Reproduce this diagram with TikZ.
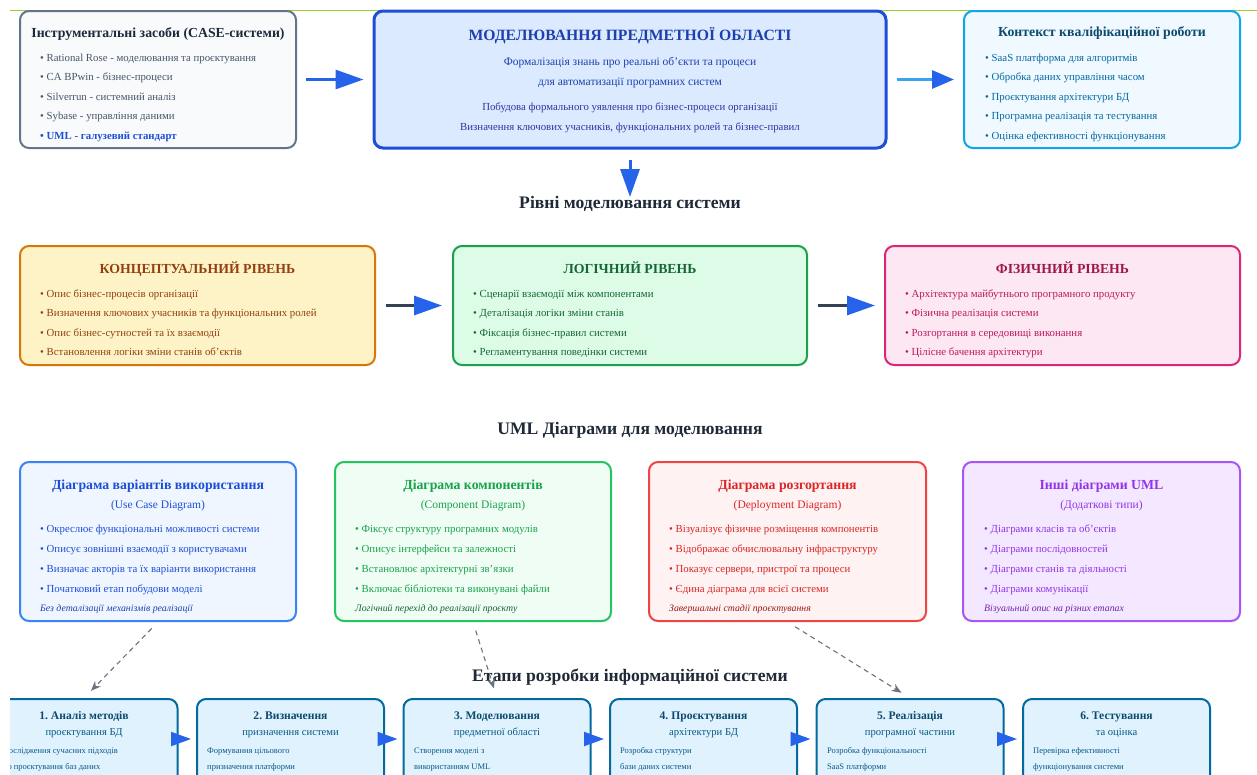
\documentclass[tikz,border=0pt]{standalone}
\usepackage{fontspec}
\setmainfont{Liberation Serif}
\usetikzlibrary{arrows.meta}

\definecolor{lineGreen}{HTML}{9ACD32}
\definecolor{secC}{HTML}{1F2937}
\definecolor{arrowBlue}{HTML}{2563EB}
\definecolor{skyLine}{HTML}{38A3EE}
\definecolor{slateLine}{HTML}{334155}
\definecolor{dashGray}{HTML}{6B7280}
% tools
\definecolor{toolsB}{HTML}{64748B}\definecolor{toolsF}{HTML}{F8FAFC}
\definecolor{toolsT}{HTML}{1E293B}\definecolor{toolsX}{HTML}{475569}
\definecolor{toolsU}{HTML}{1D4ED8}
% domain modelling
\definecolor{modB}{HTML}{1D4ED8}\definecolor{modF}{HTML}{DBEAFE}
\definecolor{modT}{HTML}{1E40AF}\definecolor{modX}{HTML}{3730A3}
% thesis context
\definecolor{ctxB}{HTML}{0EA5E9}\definecolor{ctxF}{HTML}{F0F9FF}
\definecolor{ctxT}{HTML}{0C4A6E}\definecolor{ctxX}{HTML}{0369A1}
% levels
\definecolor{conB}{HTML}{D97706}\definecolor{conF}{HTML}{FEF3C7}\definecolor{conT}{HTML}{92400E}
\definecolor{logB}{HTML}{16A34A}\definecolor{logF}{HTML}{DCFCE7}\definecolor{logT}{HTML}{166534}
\definecolor{phyB}{HTML}{DB2777}\definecolor{phyF}{HTML}{FCE7F3}\definecolor{phyT}{HTML}{9D174D}\definecolor{phyX}{HTML}{BE185D}
% UML diagrams
\definecolor{u1B}{HTML}{3B82F6}\definecolor{u1F}{HTML}{EFF6FF}\definecolor{u1T}{HTML}{1D4ED8}\definecolor{u1I}{HTML}{1E40AF}
\definecolor{u2B}{HTML}{22C55E}\definecolor{u2F}{HTML}{F0FDF4}\definecolor{u2T}{HTML}{16A34A}\definecolor{u2I}{HTML}{166534}
\definecolor{u3B}{HTML}{EF4444}\definecolor{u3F}{HTML}{FEF2F2}\definecolor{u3T}{HTML}{DC2626}\definecolor{u3I}{HTML}{991B1B}
\definecolor{u4B}{HTML}{A855F7}\definecolor{u4F}{HTML}{F3E8FF}\definecolor{u4T}{HTML}{9333EA}\definecolor{u4I}{HTML}{6B21A8}
% stages
\definecolor{stB}{HTML}{0369A1}\definecolor{stF}{HTML}{E0F2FE}\definecolor{stT}{HTML}{0C4A6E}\definecolor{stX}{HTML}{075985}

\tikzset{
  box/.style={draw, rounded corners=9pt, line width=2pt, inner sep=0pt},
  ttl/.style={inner sep=0pt, anchor=base, yshift=-5.2pt, font=\bfseries\fontsize{13.8}{16}\selectfont},
  itm/.style={inner sep=0pt, anchor=base west, yshift=-4.5pt, font=\fontsize{10.8}{12}\selectfont},
  sub/.style={inner sep=0pt, anchor=base, yshift=-4.6pt, font=\fontsize{11.5}{13}\selectfont},
  small/.style={inner sep=0pt, anchor=base, yshift=-4.3pt, font=\fontsize{10.8}{12}\selectfont},
  note/.style={inner sep=0pt, anchor=base west, yshift=-3.5pt, font=\itshape\fontsize{9.8}{11}\selectfont},
  sec/.style={inner sep=0pt, anchor=base, yshift=-6pt, text=secC, font=\bfseries\fontsize{17.6}{20}\selectfont},
  stagebox/.style={box, fill=stF, draw=stB, minimum width=187pt, minimum height=92pt},
  stttl/.style={inner sep=0pt, anchor=base, yshift=-4.8pt, text=stT, font=\bfseries\fontsize{11.6}{14}\selectfont},
  stsub/.style={inner sep=0pt, anchor=base, yshift=-4.4pt, text=stX, font=\fontsize{10.6}{13}\selectfont},
  stsmall/.style={inner sep=0pt, anchor=base west, yshift=-3pt, text=stX, font=\fontsize{8.5}{10}\selectfont},
  bigarrow/.style={line width=3pt, -{Triangle[length=28pt,width=19pt]}},
  steparrow/.style={line width=2pt, arrowBlue, -{Triangle[length=20pt,width=14pt]},
                    shorten <=4pt, shorten >=5pt},
  dasharrow/.style={dashGray, line width=1.1pt, dash pattern=on 5pt off 4pt,
                    -{Stealth[length=10pt,width=8pt]}},
}

\begin{document}
\frenchspacing
\begin{tikzpicture}[x=1pt,y=-1pt]
\useasboundingbox[fill=white] (0,0) rectangle (1257,774);

% thin rule along the top
\draw[lineGreen, line width=0.8pt] (10,10) -- (1257,10);

% ---------- top row ----------
\node[box, draw=toolsB, fill=toolsF, minimum width=276pt, minimum height=137pt] (tools) at (158,79.5) {};
\node[ttl, text=toolsT] (toolsTitle) at (158,32) {Інструментальні засоби (CASE-системи)};
\node[itm, text=toolsX] (tools1) at (40,57) {• Rational Rose - моделювання та проєктування};
\node[itm, text=toolsX] (tools2) at (40,76) {• CA BPwin - бізнес-процеси};
\node[itm, text=toolsX] (tools3) at (40,96) {• Silverrun - системний аналіз};
\node[itm, text=toolsX] (tools4) at (40,115) {• Sybase - управління даними};
\node[itm, text=toolsU, font=\bfseries\fontsize{10.8}{12}\selectfont] (tools5) at (40,135) {• UML - галузевий стандарт};

\node[box, line width=3pt, draw=modB, fill=modF, minimum width=512pt, minimum height=137pt] (model) at (630,79.5) {};
\node[inner sep=0pt, anchor=base, yshift=-5.5pt, text=modT, font=\bfseries\fontsize{15.7}{18}\selectfont] (modelTitle) at (630,35) {МОДЕЛЮВАННЯ ПРЕДМЕТНОЇ ОБЛАСТІ};
\node[sub, text=modT] (model1) at (630,61) {Формалізація знань про реальні об'єкти та процеси};
\node[sub, text=modT] (model2) at (630,81) {для автоматизації програмних систем};
\node[small, text=modX] (model3) at (630,106) {Побудова формального уявлення про бізнес-процеси організації};
\node[small, text=modX] (model4) at (630,126) {Визначення ключових учасників, функціональних ролей та бізнес-правил};

\node[box, draw=ctxB, fill=ctxF, minimum width=276pt, minimum height=137pt] (ctx) at (1102,79.5) {};
\node[ttl, text=ctxT] (ctxTitle) at (1102,31) {Контекст кваліфікаційної роботи};
\node[itm, text=ctxX] (ctx1) at (985,57) {• SaaS платформа для алгоритмів};
\node[itm, text=ctxX] (ctx2) at (985,76) {• Обробка даних управління часом};
\node[itm, text=ctxX] (ctx3) at (985,96) {• Проєктування архітектури БД};
\node[itm, text=ctxX] (ctx4) at (985,115) {• Програмна реалізація та тестування};
\node[itm, text=ctxX] (ctx5) at (985,135) {• Оцінка ефективності функціонування};

\draw[bigarrow, arrowBlue, shorten <=9pt, shorten >=9pt] (tools) -- (model);
\draw[bigarrow, skyLine, -{Triangle[length=22pt,width=18pt,color=arrowBlue]}, shorten <=9pt, shorten >=9pt] (model) -- (ctx);

% ---------- modelling levels ----------
\node[sec] (levelsTitle) at (630,202) {Рівні моделювання системи};
\coordinate (downTip) at (630,197);
\draw[bigarrow, arrowBlue, shorten <=10pt] (model.south) -- (downTip);

\node[box, draw=conB, fill=conF, minimum width=355pt, minimum height=119pt] (concept) at (197.5,305.5) {};
\node[ttl, text=conT] (conceptTitle) at (197.5,268) {КОНЦЕПТУАЛЬНИЙ РІВЕНЬ};
\node[itm, text=conT] (concept1) at (40,293) {• Опис бізнес-процесів організації};
\node[itm, text=conT] (concept2) at (40,312) {• Визначення ключових учасників та функціональних ролей};
\node[itm, text=conT] (concept3) at (40,332) {• Опис бізнес-сутностей та їх взаємодії};
\node[itm, text=conT] (concept4) at (40,351) {• Встановлення логіки зміни станів об'єктів};

\node[box, draw=logB, fill=logF, minimum width=354pt, minimum height=119pt] (logic) at (630,305.5) {};
\node[ttl, text=logT] (logicTitle) at (630,268) {ЛОГІЧНИЙ РІВЕНЬ};
\node[itm, text=logT] (logic1) at (473,293) {• Сценарії взаємодії між компонентами};
\node[itm, text=logT] (logic2) at (473,312) {• Деталізація логіки зміни станів};
\node[itm, text=logT] (logic3) at (473,332) {• Фіксація бізнес-правил системи};
\node[itm, text=logT] (logic4) at (473,351) {• Регламентування поведінки системи};

\node[box, draw=phyB, fill=phyF, minimum width=355pt, minimum height=119pt] (phys) at (1062.5,305.5) {};
\node[ttl, text=phyT] (physTitle) at (1062.5,268) {ФІЗИЧНИЙ РІВЕНЬ};
\node[itm, text=phyX] (phys1) at (905,293) {• Архітектура майбутнього програмного продукту};
\node[itm, text=phyX] (phys2) at (905,312) {• Фізична реалізація системи};
\node[itm, text=phyX] (phys3) at (905,332) {• Розгортання в середовищі виконання};
\node[itm, text=phyX] (phys4) at (905,351) {• Цілісне бачення архітектури};

\draw[bigarrow, slateLine, -{Triangle[length=28pt,width=19pt,color=arrowBlue]}, shorten <=10pt, shorten >=10pt] (concept) -- (logic);
\draw[bigarrow, slateLine, -{Triangle[length=28pt,width=19pt,color=arrowBlue]}, shorten <=10pt, shorten >=9pt] (logic) -- (phys);

% ---------- UML diagrams ----------
\node[sec] (umlTitle) at (630,428) {UML Діаграми для моделювання};

\node[box, draw=u1B, fill=u1F, minimum width=276pt, minimum height=159pt] (uml1) at (158,541.5) {};
\node[ttl, text=u1T] (uml1Title) at (158,484) {Діаграма варіантів використання};
\node[sub, text=u1T] (uml1Sub) at (158,504) {(Use Case Diagram)};
\node[itm, text=u1T] (uml1a) at (40,528) {• Окреслює функціональні можливості системи};
\node[itm, text=u1T] (uml1b) at (40,548) {• Описує зовнішні взаємодії з користувачами};
\node[itm, text=u1T] (uml1c) at (40,568) {• Визначає акторів та їх варіанти використання};
\node[itm, text=u1T] (uml1d) at (40,588) {• Початковий етап побудови моделі};
\node[note, text=u1I] (uml1n) at (40,608) {Без деталізації механізмів реалізації};

\node[box, draw=u2B, fill=u2F, minimum width=276pt, minimum height=159pt] (uml2) at (473,541.5) {};
\node[ttl, text=u2T] (uml2Title) at (473,484) {Діаграма компонентів};
\node[sub, text=u2T] (uml2Sub) at (473,504) {(Component Diagram)};
\node[itm, text=u2T] (uml2a) at (355,528) {• Фіксує структуру програмних модулів};
\node[itm, text=u2T] (uml2b) at (355,548) {• Описує інтерфейси та залежності};
\node[itm, text=u2T] (uml2c) at (355,568) {• Встановлює архітектурні зв'язки};
\node[itm, text=u2T] (uml2d) at (355,588) {• Включає бібліотеки та виконувані файли};
\node[note, text=u2I] (uml2n) at (355,608) {Логічний перехід до реалізації проєкту};

\node[box, draw=u3B, fill=u3F, minimum width=277pt, minimum height=159pt] (uml3) at (787.5,541.5) {};
\node[ttl, text=u3T] (uml3Title) at (787.5,484) {Діаграма розгортання};
\node[sub, text=u3T] (uml3Sub) at (787.5,504) {(Deployment Diagram)};
\node[itm, text=u3T] (uml3a) at (669,528) {• Візуалізує фізичне розміщення компонентів};
\node[itm, text=u3T] (uml3b) at (669,548) {• Відображає обчислювальну інфраструктуру};
\node[itm, text=u3T] (uml3c) at (669,568) {• Показує сервери, пристрої та процеси};
\node[itm, text=u3T] (uml3d) at (669,588) {• Єдина діаграма для всієї системи};
\node[note, text=u3I] (uml3n) at (669,608) {Завершальні стадії проєктування};

\node[box, draw=u4B, fill=u4F, minimum width=277pt, minimum height=159pt] (uml4) at (1101.5,541.5) {};
\node[ttl, text=u4T] (uml4Title) at (1101.5,484) {Інші діаграми UML};
\node[sub, text=u4T] (uml4Sub) at (1101.5,504) {(Додаткові типи)};
\node[itm, text=u4T] (uml4a) at (984,528) {• Діаграми класів та об'єктів};
\node[itm, text=u4T] (uml4b) at (984,548) {• Діаграми послідовностей};
\node[itm, text=u4T] (uml4c) at (984,568) {• Діаграми станів та діяльності};
\node[itm, text=u4T] (uml4d) at (984,588) {• Діаграми комунікації};
\node[note, text=u4I] (uml4n) at (984,608) {Візуальний опис на різних етапах};

% ---------- development stages ----------
\node[sec] (stagesTitle) at (630,675) {Етапи розробки інформаційної системи};

\begin{scope}
\clip (10,0) rectangle (1257,774);
\node[stagebox] (st1) at (84,745) {};
\node[stttl] (st1t) at (84,715) {1. Аналіз методів};
\node[stsub] (st1s) at (84,731) {проєктування БД};
\node[stsmall] (st1a) at (3,750) {Дослідження сучасних підходів};
\node[stsmall] (st1b) at (3,766) {до проєктування баз даних};

\node[stagebox] (st2) at (290.5,745) {};
\node[stttl] (st2t) at (290.5,715) {2. Визначення};
\node[stsub] (st2s) at (290.5,731) {призначення системи};
\node[stsmall] (st2a) at (207,750) {Формування цільового};
\node[stsmall] (st2b) at (207,766) {призначення платформи};

\node[stagebox] (st3) at (497,745) {};
\node[stttl] (st3t) at (497,715) {3. Моделювання};
\node[stsub] (st3s) at (497,731) {предметної області};
\node[stsmall] (st3a) at (414,750) {Створення моделі з};
\node[stsmall] (st3b) at (414,766) {використанням UML};

\node[stagebox] (st4) at (703.5,745) {};
\node[stttl] (st4t) at (703.5,715) {4. Проєктування};
\node[stsub] (st4s) at (703.5,731) {архітектури БД};
\node[stsmall] (st4a) at (620,750) {Розробка структури};
\node[stsmall] (st4b) at (620,766) {бази даних системи};

\node[stagebox] (st5) at (910,745) {};
\node[stttl] (st5t) at (910,715) {5. Реалізація};
\node[stsub] (st5s) at (910,731) {програмної частини};
\node[stsmall] (st5a) at (827,750) {Розробка функціональності};
\node[stsmall] (st5b) at (827,766) {SaaS платформи};

\node[stagebox] (st6) at (1116.5,745) {};
\node[stttl] (st6t) at (1116.5,715) {6. Тестування};
\node[stsub] (st6s) at (1116.5,731) {та оцінка};
\node[stsmall] (st6a) at (1033,750) {Перевірка ефективності};
\node[stsmall] (st6b) at (1033,766) {функціонування системи};
\end{scope}

% flow between the stages
\coordinate (flowY) at (0,739);
\draw[steparrow] (st1.east |- flowY) -- (st2.west |- flowY);
\draw[steparrow] (st2.east |- flowY) -- (st3.west |- flowY);
\draw[steparrow] (st3.east |- flowY) -- (st4.west |- flowY);
\draw[steparrow] (st4.east |- flowY) -- (st5.west |- flowY);
\draw[steparrow] (st5.east |- flowY) -- (st6.west |- flowY);

% links from diagrams to the stages that use them
\draw[dasharrow, shorten <=9pt, shorten >=10pt] (uml1.south) -- (st1.north);
\draw[dasharrow, shorten <=9pt, shorten >=10pt] (uml2.south) -- (st3.north);
\draw[dasharrow, shorten <=9pt, shorten >=10pt] (uml3.south) -- (st5.north);
\end{tikzpicture}
\end{document}
